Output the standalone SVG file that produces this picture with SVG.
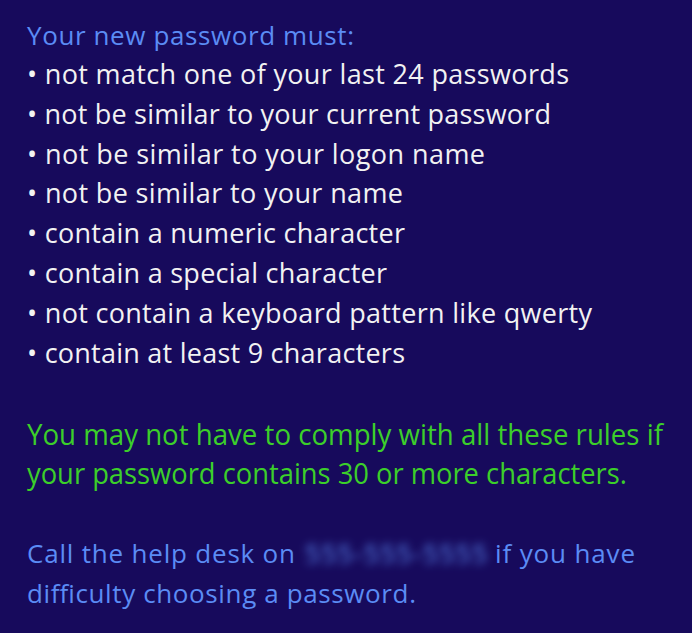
<svg xmlns="http://www.w3.org/2000/svg" width="692" height="633" viewBox="0 0 692 633">
<defs>
<style>
text{font-family:"Open Sans","Noto Sans","DejaVu Sans",sans-serif;font-size:26px}
.h{fill:#5b8cf5}
.w{fill:#f2f2f2;font-size:27px}
.g{fill:#3ccf2a;font-size:26px}
</style>
<filter id="blur" x="-10%" y="-40%" width="120%" height="180%"><feGaussianBlur stdDeviation="4"/></filter>
</defs>
<rect width="692" height="633" fill="#170a5c"/>
<g id="rules">
<text class="h" x="27" y="45" textLength="327">Your new password must:</text>
<text class="w" x="27" y="84" textLength="542">• not match one of your last 24 passwords</text>
<text class="w" x="27" y="124" textLength="524">• not be similar to your current password</text>
<text class="w" x="27" y="164" textLength="458">• not be similar to your logon name</text>
<text class="w" x="27" y="203" textLength="376">• not be similar to your name</text>
<text class="w" x="27" y="243" textLength="378">• contain a numeric character</text>
<text class="w" x="27" y="283" textLength="360">• contain a special character</text>
<text class="w" x="27" y="323" textLength="565">• not contain a keyboard pattern like qwerty</text>
<text class="w" x="27" y="363" textLength="378">• contain at least 9 characters</text>
</g>
<g id="note">
<text class="g" x="27" y="0" transform="translate(0,445) scale(1,1.1)" textLength="636" lengthAdjust="spacingAndGlyphs">You may not have to comply with all these rules if</text>
<text class="g" x="27" y="0" transform="translate(0,484) scale(1,1.1)" textLength="600" lengthAdjust="spacingAndGlyphs">your password contains 30 or more characters.</text>
</g>
<g id="help">
<text class="h" x="27" y="563" textLength="268">Call the help desk on</text>
<text class="h" x="305" y="563" textLength="182" filter="url(#blur)">555-555-5555</text>
<text class="h" x="495" y="563" textLength="140">if you have</text>
<text class="h" x="27" y="603" textLength="389">difficulty choosing a password.</text>
</g>
</svg>
